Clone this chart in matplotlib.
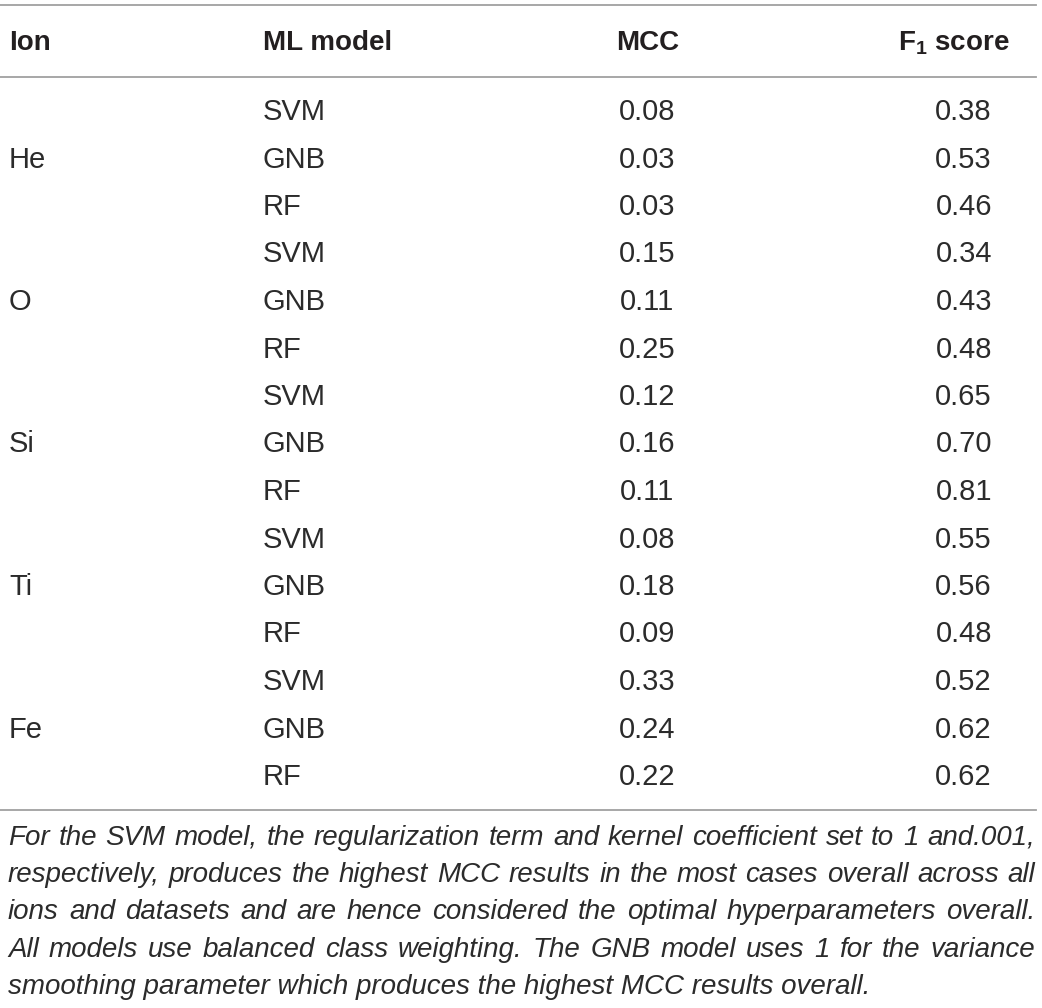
import matplotlib.pyplot as plt

# table data
ions = ['He', 'O', 'Si', 'Ti', 'Fe']
models = ['SVM', 'GNB', 'RF']
mcc = [0.08, 0.03, 0.03, 0.15, 0.11, 0.25, 0.12, 0.16, 0.11,
       0.08, 0.18, 0.09, 0.33, 0.24, 0.22]
f1 = [0.38, 0.53, 0.46, 0.34, 0.43, 0.48, 0.65, 0.70, 0.81,
      0.55, 0.56, 0.48, 0.52, 0.62, 0.62]
headers = ['Ion', 'ML model', 'MCC', r'F$_\mathregular{1}$ score']
footnote = ['For the SVM model, the regularization term and kernel coefficient set to 1 and.001,',
            'respectively, produces the highest MCC results in the most cases overall across all',
            'ions and datasets and are hence considered the optimal hyperparameters overall.',
            'All models use balanced class weighting. The GNB model uses 1 for the variance',
            'smoothing parameter which produces the highest MCC results overall.']

W, H = 1042, 1008
fig = plt.figure(figsize=(W / 100, H / 100), dpi=100)
ax = fig.add_axes([0, 0, 1, 1])
ax.set_xlim(0, W)
ax.set_ylim(H, 0)
ax.axis('off')

txt = '#231f20'
body_c = '#2b2b2b'
line_c = '#a0a0a0'
fam = 'Liberation Sans'

# rules
for y in [5, 77, 810]:
    ax.plot([0, 1036], [y, y], color=line_c, lw=1.3)

# header
hy = 43
hkw = dict(fontsize=20, fontweight='bold', family=fam, color=txt, va='center')
ax.text(9, hy, headers[0], **hkw)
ax.text(263, hy, headers[1], **hkw)
ax.text(648, hy, headers[2], ha='center', **hkw)
ax.text(1010, hy, headers[3], ha='right', **hkw)

# rows
bkw = dict(fontsize=21, family=fam, color=body_c, va='center')
y0, dy = 112, 47.5
for i in range(len(mcc)):
    y = y0 + i * dy
    if i % 3 == 1:
        ax.text(9, y, ions[i // 3], **bkw)
    ax.text(263, y, models[i % 3], **bkw)
    ax.text(647, y, '%.2f' % mcc[i], ha='center', **bkw)
    ax.text(992, y, '%.2f' % f1[i], ha='right', **bkw)

# footnote, justified between x0 and x1
fkw = dict(fontsize=20, family=fam, style='italic', color=body_c, va='center')
x0, x1 = 8, 1035
renderer = fig.canvas.get_renderer()
for j, line in enumerate(footnote):
    y = 838 + j * 37.2
    if j == len(footnote) - 1:
        ax.text(x0, y, line, **fkw)
        continue
    words = line.split(' ')
    objs = [ax.text(0, y, w, **fkw) for w in words]
    widths = [o.get_window_extent(renderer).width for o in objs]
    gap = (x1 - x0 - sum(widths)) / (len(words) - 1)
    x = x0
    for o, w in zip(objs, widths):
        o.set_x(x)
        x += w + gap

fig.savefig('out.png', dpi=100)
